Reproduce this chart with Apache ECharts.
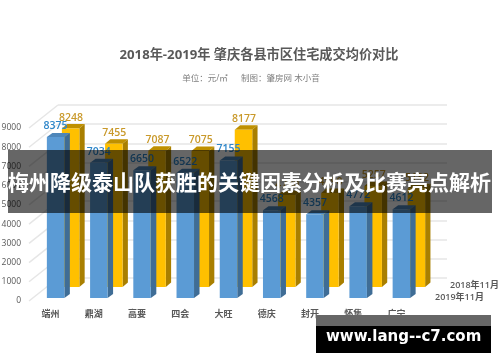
<!DOCTYPE html>
<html><head><meta charset="utf-8">
<style>html,body{margin:0;padding:0;background:#fff}#c{width:500px;height:362px}</style>
<script src="https://cdn.jsdelivr.net/npm/echarts@6/dist/echarts.min.js"></script>
</head><body><div id="c"></div>
<script>
const categories = ['端州','鼎湖','高要','四会','大旺','德庆','封开','怀集','广宁'];
const values2018 = [8248,7455,7087,7075,8177,4780,4890,5257,5132];
const values2019 = [8375,7034,6650,6522,7155,4568,4357,4772,4612];
const ticks = [0,1000,2000,3000,4000,5000,6000,7000,8000,9000];
const titleText = '2018年-2019年 肇庆各县市区住宅成交均价对比';
const subText = '单位：元/㎡      制图：肇房网 木小音';
const overlayText = '梅州降级泰山队获胜的关键因素分析及比赛亮点解析';
const urlText = 'www.lang--c7.com';
const seriesNames = ['2018年11月','2019年11月'];
const FF = '"Open Sans","Noto Sans CJK SC",sans-serif';

function bar3d(o){
  return function(params, api){
    const i = api.value(0), v = api.value(1);
    const t = api.coord([i, v]), b = api.coord([i, 0]);
    const l = t[0] + o.dx - o.w/2, r = l + o.w;
    const yt = t[1] + o.dy, yb = b[1] + o.dy;
    return {type:'group', children:[
      {type:'polygon', shape:{points:[[l,yt],[r,yt],[r+o.dpx,yt-o.dpy],[l+o.dpx,yt-o.dpy]]}, style:{fill:o.top}},
      {type:'polygon', shape:{points:[[r,yt],[r+o.dpx,yt-o.dpy],[r+o.dpx,yb-o.dpy],[r,yb]]}, style:{fill:o.side}},
      {type:'rect', shape:{x:l,y:yt,width:o.w,height:yb-yt}, style:{fill:o.front}},
      {type:'text', style:{x:(l+r)/2+o.ldx, y:yt-o.dpy-o.ldy, text:String(v), fill:o.label, font:'600 10.5px '+FF, align:'center', verticalAlign:'middle'}}
    ]};
  };
}
const chart = echarts.init(document.getElementById('c'), null, {renderer:'canvas'});
chart.setOption({
  animation:false,
  backgroundColor:'#fff',
  title:[
    {text:titleText, left:254, top:44, textAlign:'center', textStyle:{fontSize:13.2, fontWeight:'bold', color:'#595959', fontFamily:FF}},
    {text:subText, left:246, top:69, textAlign:'center', textStyle:{fontSize:8.5, fontWeight:'normal', color:'#7f7f7f', fontFamily:FF}}
  ],
  grid:[
    {left:29, top:128, width:389, height:173, outerBoundsMode:'none'},
    {left:58, top:105, width:389, height:173, outerBoundsMode:'none'}
  ],
  xAxis:[
    {type:'category', gridIndex:0, data:categories, axisLine:{show:false}, axisTick:{show:false}, axisLabel:{margin:9, fontSize:9, fontWeight:600, color:'#595959', fontFamily:FF, interval:0, hideOverlap:false}},
    {type:'category', gridIndex:1, data:categories, show:false}
  ],
  yAxis:[
    {type:'value', gridIndex:0, min:0, max:9000, interval:1000, axisLine:{show:false}, axisTick:{show:false}, splitLine:{show:false}, axisLabel:{margin:8, fontSize:8.5, color:'#595959', fontFamily:FF, formatter:v=>String(v)}},
    {type:'value', gridIndex:1, min:0, max:9000, interval:1000, axisLine:{show:false}, axisTick:{show:false}, axisLabel:{show:false}, splitLine:{show:true, lineStyle:{color:'#e6e6e6', width:1.5}}}
  ],
  series:[
    {type:'custom', name:'wall', xAxisIndex:0, yAxisIndex:0, z:1, silent:true, clip:false, data:ticks.map(t=>[0,t]), renderItem(params, api){
      const y = api.coord([0, api.value(1)])[1], x = params.coordSys.x;
      return {type:'line', shape:{x1:x,y1:y,x2:x+29,y2:y-23}, style:{stroke:'#e6e6e6', lineWidth:1.5}};
    }},
    {type:'custom', name:seriesNames[0], xAxisIndex:0, yAxisIndex:0, z:2, data:values2018.map((v,i)=>[i,v]),
      renderItem:bar3d({dx:20,dy:-14,w:17.5,dpx:5.3,dpy:4.5,front:'#ffc000',side:'#a97f00',top:'#bf9000',label:'#c9992a',ldx:0.5,ldy:6})},
    {type:'custom', name:seriesNames[1], xAxisIndex:0, yAxisIndex:0, z:3, data:values2019.map((v,i)=>[i,v]),
      renderItem:bar3d({dx:5,dy:-3,w:17.5,dpx:5.5,dpy:4,front:'#5b9bd5',side:'#3f6d96',top:'#4d86ba',label:'#2e86c9',ldx:0,ldy:7})}
  ],
  graphic:[
    {type:'text', z:5, left:450, top:281, style:{text:seriesNames[0], font:'600 9px '+FF, fill:'#595959'}},
    {type:'text', z:5, left:435, top:293, style:{text:seriesNames[1], font:'600 9px '+FF, fill:'#595959'}},
    {type:'rect', z:10, left:8, top:150, shape:{width:484,height:63}, style:{fill:'rgba(0,0,0,0.6)'}},
    {type:'text', z:11, left:8, top:172, style:{text:overlayText, font:'bold 21px "Noto Sans CJK SC",sans-serif', fill:'#fff'}},
    {type:'rect', z:10, left:316, top:315, shape:{width:175,height:11}, style:{fill:'#666'}},
    {type:'rect', z:10, left:316, top:326, shape:{width:175,height:27}, style:{fill:'#000'}},
    {type:'text', z:11, left:326, top:330, style:{text:urlText, font:'bold 15px "DejaVu Sans",sans-serif', fill:'#fff'}}
  ]
});
</script></body></html>
